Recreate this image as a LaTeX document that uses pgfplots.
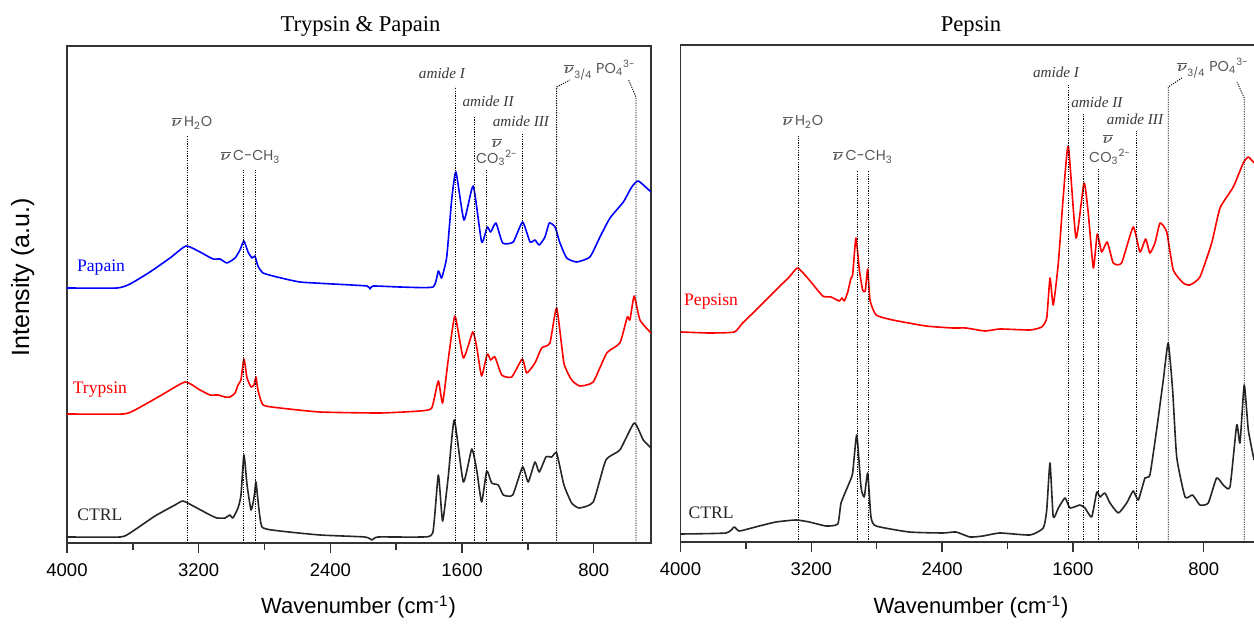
\documentclass[border=0pt]{standalone}
\usepackage{fontspec}
\usepackage{amsmath}
\usepackage{pgfplots}
\pgfplotsset{compat=1.18}
\setmainfont{Liberation Serif}
\setsansfont{Liberation Sans}
\newfontfamily\annot{Poppins}
\definecolor{annotgray}{HTML}{555555}
\definecolor{amidegray}{HTML}{3A3A3A}
\definecolor{framegray}{HTML}{333333}
\newcommand{\nub}{$\overline{\boldsymbol{\nu}}$}
\pgfplotsset{
  ftir/.style={
    scale only axis, height=248.5pt,
    x dir=reverse, xmax=4000, ymin=0, ymax=497,
    ytick=\empty,
    xtick={800,1600,2400,3200,4000},
    minor xtick={1200,2000,2800,3600},
    tick align=outside, xtick pos=left,
    major tick length=5pt, minor tick length=3.5pt,
    every tick/.style={framegray, line width=0.75pt},
    axis line style={framegray, line width=0.75pt},
    /pgf/number format/assume math mode=true,
    /pgf/number format/1000 sep={},
    xticklabel style={font=\sffamily\fontsize{9.25}{10}\selectfont, yshift=-2pt},
    clip=true,
  },
}
\tikzset{
  spec/.style={line width=0.8pt, line join=round, smooth, tension=0.3},
  vline/.style={black, line width=0.45pt, dash pattern=on 0.6pt off 0.6pt},
  annot/.style={font=\annot\fontsize{7.2}{8}\selectfont, text=annotgray, inner sep=0pt},
  amide/.style={font=\itshape\fontsize{7.6}{8}\selectfont, text=amidegray, inner sep=0pt},
  clab/.style={font=\fontsize{8.8}{10}\selectfont, inner sep=0pt},
}
\begin{document}
\begin{tikzpicture}
\useasboundingbox (0,0) rectangle (627pt,313pt);
% ---------------- left panel ----------------
\begin{axis}[ftir, at={(33.5pt,41.5pt)}, anchor=south west, width=292pt, xmin=452]
\addplot[spec, blue] coordinates {
(4000,255) (3696,255) (3617,259) (3496,271) (3374,285) (3277,297) (3192,291) (3113,284) (3070,284) (3028,280) (2979,285) (2949,293) (2925,302) (2900,291) (2876,285) (2858,287) (2840,277) (2809,270) (2724,266) (2585,261) (2384,259) (2178,257) (2159,254) (2141,257) (1977,256) (1777,256) (1744,272) (1724,265) (1693,286) (1663,343) (1637,371) (1588,323) (1532,357) (1481,301) (1447,316) (1426,311) (1394,320) (1353,300) (1289,301) (1232,321) (1187,301) (1157,303) (1131,298) (1096,306) (1070,320) (1035,316) (1005,300) (964,285) (904,281) (823,286) (762,306) (701,325) (620,341) (569,356) (529,362) (452,351)
};
\addplot[spec, red] coordinates {
(4000,129) (3660,129) (3587,133) (3435,147) (3283,161) (3192,153) (3131,148) (3083,148) (3040,146) (3010,146) (2979,150) (2961,158) (2943,163) (2925,184) (2906,165) (2882,156) (2864,158) (2852,166) (2840,153) (2809,138) (2706,135) (2463,131) (2099,130) (1856,132) (1784,135) (1744,162) (1718,140) (1684,183) (1643,227) (1592,185) (1535,211) (1511,196) (1481,167) (1447,189) (1426,183) (1400,186) (1359,168) (1298,166) (1234,184) (1207,170) (1157,180) (1116,195) (1066,200) (1025,235) (981,180) (934,163) (884,157) (803,161) (721,190) (641,200) (596,226) (580,223) (554,247) (519,223) (452,210)
};
\addplot[spec, black!85] coordinates {
(4000,6) (3678,6) (3617,10) (3465,27) (3344,38) (3295,42) (3222,36) (3131,28) (3089,25) (3040,25) (3010,28) (2992,25) (2961,35) (2943,48) (2925,88) (2906,58) (2882,33) (2864,45) (2852,61) (2840,43) (2815,16) (2706,12) (2463,8) (2190,6) (2147,3) (2111,6) (1856,6) (1778,10) (1744,68) (1718,22) (1684,66) (1647,123) (1592,61) (1541,94) (1511,73) (1481,41) (1450,72) (1420,60) (1380,58) (1349,48) (1292,48) (1232,76) (1198,61) (1157,81) (1131,71) (1090,86) (1055,86) (1025,90) (981,58) (934,40) (888,35) (803,41) (726,83) (641,93) (554,120) (499,103) (452,95)
};
\draw[vline] (axis cs:3271,0) -- (axis cs:3271,407);
\draw[vline] (axis cs:2925,0) -- (axis cs:2925,373);
\draw[vline] (axis cs:2858,0) -- (axis cs:2858,373);
\draw[vline] (axis cs:1639,0) -- (axis cs:1639,456);
\draw[vline] (axis cs:1527,0) -- (axis cs:1527,427);
\draw[vline] (axis cs:1450,0) -- (axis cs:1450,373);
\draw[vline] (axis cs:1232,0) -- (axis cs:1232,410);
\draw[vline] (axis cs:1025,0) -- (axis cs:1025,456) -- (axis cs:944,463);
\draw[vline] (axis cs:543,0) -- (axis cs:543,446) -- (axis cs:588,463);
\node[annot] at (axis cs:3241,420) {\nub\,H\textsubscript{2}O};
\node[annot] at (axis cs:2885,386) {\nub\,C-CH\textsubscript{3}};
\node[amide] at (axis cs:1722,470) {amide I};
\node[amide] at (axis cs:1442,442) {amide II};
\node[amide] at (axis cs:1242,422) {amide III};
\node[annot] at (axis cs:1388,400) {\nub};
\node[annot] at (axis cs:1388,385) {CO\textsubscript{3}\textsuperscript{2-}};
\node[annot] at (axis cs:762,473) {\nub\textsubscript{3/4} PO\textsubscript{4}\textsuperscript{3-}};
\node[clab, text=blue] at (axis cs:3793,275) {Papain};
\node[clab, text=red] at (axis cs:3800,153) {Trypsin};
\node[clab, text=black!85] at (axis cs:3800,28) {CTRL};
\end{axis}
% ---------------- right panel ----------------
\begin{axis}[ftir, at={(340.25pt,42pt)}, anchor=south west, width=287.75pt, xmin=480]
\addplot[spec, red] coordinates {
(3997,210) (3824,209) (3671,210) (3620,219) (3538,232) (3416,252) (3335,265) (3283,274) (3212,262) (3130,246) (3080,245) (3029,241) (3012,244) (2998,241) (2977,250) (2957,264) (2947,267) (2927,304) (2906,272) (2886,252) (2870,251) (2855,273) (2841,242) (2804,227) (2702,222) (2499,216) (2335,214) (2254,214) (2138,211) (2046,213) (1862,212) (1791,215) (1760,224) (1740,264) (1720,237) (1689,279) (1659,345) (1628,396) (1581,304) (1532,359) (1506,329) (1475,274) (1451,308) (1424,290) (1390,300) (1353,279) (1302,279) (1231,315) (1190,290) (1155,303) (1129,289) (1098,299) (1067,319) (1026,310) (986,272) (925,259) (884,257) (823,265) (751,299) (700,334) (619,355) (558,379) (527,385) (492,379)
};
\addplot[spec, black!85] coordinates {
(3997,8) (3722,9) (3671,15) (3640,11) (3518,16) (3416,20) (3294,22) (3212,20) (3110,16) (3038,18) (3018,39) (2968,59) (2947,69) (2922,107) (2896,55) (2876,45) (2855,69) (2835,25) (2804,16) (2601,10) (2396,9) (2315,10) (2230,5) (2150,6) (2046,9) (1862,7) (1781,14) (1760,32) (1740,79) (1720,25) (1689,34) (1648,44) (1618,34) (1557,37) (1526,34) (1485,25) (1454,50) (1434,45) (1404,49) (1373,39) (1322,29) (1271,39) (1231,51) (1200,42) (1159,64) (1129,67) (1088,112) (1047,162) (1017,199) (990,152) (965,85) (914,45) (868,47) (823,37) (772,39) (721,64) (680,57) (639,55) (598,117) (578,99) (552,157) (527,112) (492,82)
};
\draw[vline] (axis cs:3279,0) -- (axis cs:3279,406);
\draw[vline] (axis cs:2920,0) -- (axis cs:2920,372);
\draw[vline] (axis cs:2851,0) -- (axis cs:2851,372);
\draw[vline] (axis cs:1628,0) -- (axis cs:1628,457);
\draw[vline] (axis cs:1536,0) -- (axis cs:1536,428);
\draw[vline] (axis cs:1445,0) -- (axis cs:1445,374);
\draw[vline] (axis cs:1210,0) -- (axis cs:1210,411);
\draw[vline] (axis cs:1017,0) -- (axis cs:1017,455) -- (axis cs:933,464);
\draw[vline] (axis cs:552,0) -- (axis cs:552,444) -- (axis cs:596,460);
\node[annot] at (axis cs:3251,420) {\nub\,H\textsubscript{2}O};
\node[annot] at (axis cs:2884,385) {\nub\,C-CH\textsubscript{3}};
\node[amide] at (axis cs:1703,470) {amide I};
\node[amide] at (axis cs:1453,440) {amide II};
\node[amide] at (axis cs:1220,423) {amide III};
\node[annot] at (axis cs:1385,403) {\nub};
\node[annot] at (axis cs:1373,385) {CO\textsubscript{3}\textsuperscript{2-}};
\node[annot] at (axis cs:743,474) {\nub\textsubscript{3/4} PO\textsubscript{4}\textsuperscript{3-}};
\node[clab, text=red] at (axis cs:3813,240) {Pepsisn};
\node[clab, text=black!85] at (axis cs:3813,29) {CTRL};
\end{axis}
% ---------------- titles and labels ----------------
\node[font=\fontsize{11.3}{13}\selectfont] at (180.25pt,300pt) {Trypsin \& Papain};
\node[font=\fontsize{11.3}{13}\selectfont] at (485.5pt,300pt) {Pepsin};
\node[font=\sffamily\fontsize{12.5}{14}\selectfont, rotate=90] at (11.35pt,174.25pt) {Intensity (a.u.)};
\node[font=\sffamily\fontsize{11}{13}\selectfont] at (179.25pt,9.5pt) {Wavenumber (cm\textsuperscript{-1})};
\node[font=\sffamily\fontsize{11}{13}\selectfont] at (485.5pt,9.5pt) {Wavenumber (cm\textsuperscript{-1})};
\end{tikzpicture}
\end{document}
